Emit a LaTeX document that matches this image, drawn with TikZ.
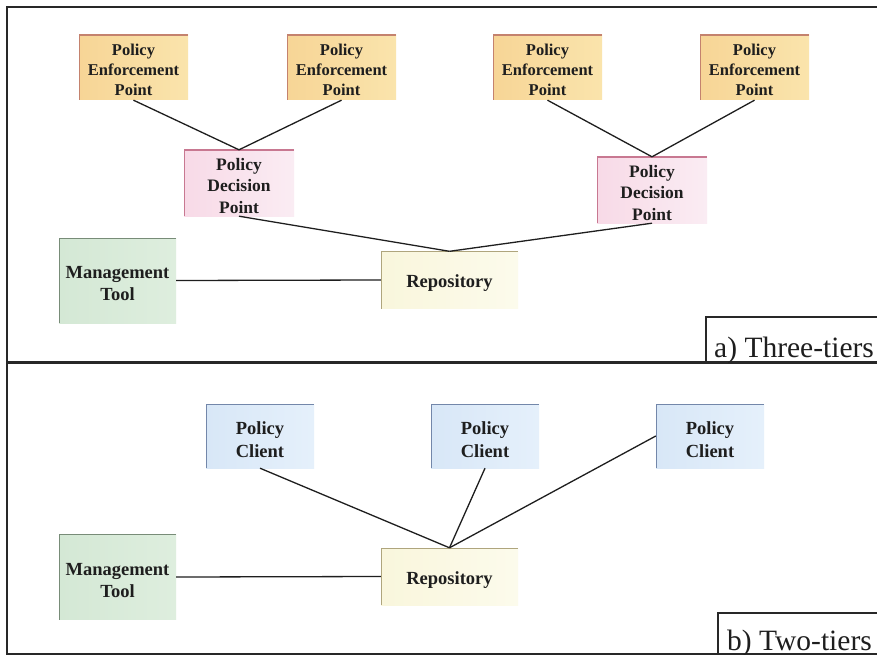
\documentclass[tikz,border=0pt]{standalone}
\usepackage{fontspec}
\setmainfont{Liberation Serif}
% invisible strut that raises the top of a node's first line
\newcommand{\padtop}[1]{\rule{0pt}{#1}}
\begin{document}
\begin{tikzpicture}[x=1pt,y=-1pt]
% colours
\definecolor{ink}{RGB}{30,30,30}
\definecolor{frame}{RGB}{40,40,40}
\definecolor{pepL}{RGB}{247,213,150}
\definecolor{pepR}{RGB}{250,228,172}
\definecolor{pepE}{RGB}{196,130,110}
\definecolor{pdpL}{RGB}{248,218,231}
\definecolor{pdpR}{RGB}{250,236,243}
\definecolor{pdpE}{RGB}{200,120,145}
\definecolor{mgtL}{RGB}{212,232,213}
\definecolor{mgtR}{RGB}{222,238,222}
\definecolor{mgtE}{RGB}{120,140,120}
\definecolor{repL}{RGB}{249,246,220}
\definecolor{repR}{RGB}{252,251,236}
\definecolor{repE}{RGB}{175,165,125}
\definecolor{pcL}{RGB}{216,231,247}
\definecolor{pcR}{RGB}{229,240,251}
\definecolor{pcE}{RGB}{115,135,170}
\tikzset{
  box/.style={rectangle, inner sep=0pt, align=center, text=ink,
    path picture={\draw[line width=1.6pt,#1]
      (path picture bounding box.south west) --
      (path picture bounding box.north west) --
      (path picture bounding box.north east);}},
  pep/.style={box=pepE, left color=pepL, right color=pepR,
    minimum width=109, minimum height=65,
    font=\bfseries\fontsize{16.5}{20}\selectfont},
  pdp/.style={box=pdpE, left color=pdpL, right color=pdpR,
    minimum width=110, minimum height=66,
    font=\bfseries\fontsize{17.5}{21.5}\selectfont},
  mgt/.style={box=mgtE, left color=mgtL, right color=mgtR,
    minimum width=117, minimum height=85,
    font=\bfseries\fontsize{18.5}{22}\selectfont},
  repo/.style={box=repE, left color=repL, right color=repR,
    minimum width=137, minimum height=57,
    font=\bfseries\fontsize{18.5}{22}\selectfont},
  pc/.style={box=pcE, left color=pcL, right color=pcR,
    minimum width=108, minimum height=64,
    font=\bfseries\fontsize{18.5}{23}\selectfont},
  link/.style={draw=ink, line width=1.3pt},
  frameline/.style={draw=frame, line width=2pt},
  tagline/.style={draw=frame, line width=1.3pt},
  tagtext/.style={inner sep=0pt, text=ink, font=\fontsize{29.5}{32}\selectfont}
}
\useasboundingbox[fill=white] (0,0) rectangle (877,655);

% ---- a) three tiers ----
\node[pep] (pep1) at (133.5,67.5) {\padtop{17pt}Policy\\Enforcement\\Point};
\node[pep] (pep2) at (341.5,67.5) {\padtop{17pt}Policy\\Enforcement\\Point};
\node[pep] (pep3) at (547.5,67.5) {\padtop{17pt}Policy\\Enforcement\\Point};
\node[pep] (pep4) at (754.5,67.5) {\padtop{17pt}Policy\\Enforcement\\Point};
\node[pdp] (pdp1) at (239,183) {\padtop{18pt}Policy\\Decision\\Point};
\node[pdp] (pdp2) at (652,190) {\padtop{18pt}Policy\\Decision\\Point};
\node[mgt] (mgtA) at (117.5,280.5) {\padtop{18.5pt}Management\\Tool};
\node[repo] (repoA) at (449.5,280) {\padtop{19pt}Repository};

\draw[link] (pep1.south) -- (pdp1.north);
\draw[link] (pep2.south) -- (pdp1.north);
\draw[link] (pep3.south) -- (pdp2.north);
\draw[link] (pep4.south) -- (pdp2.north);
\draw[link] (pdp1.south) -- (repoA.north);
\draw[link] (pdp2.south) -- (repoA.north);
\draw[link] (mgtA.east) -- (repoA.west);

% ---- b) two tiers ----
\node[pc] (pc1) at (260,436) {\padtop{19.5pt}Policy\\Client};
\node[pc] (pc2) at (485,436) {\padtop{19.5pt}Policy\\Client};
\node[pc] (pc3) at (710,436) {\padtop{19.5pt}Policy\\Client};
\node[mgt] (mgtB) at (117.5,577) {\padtop{18.5pt}Management\\Tool};
\node[repo] (repoB) at (449.5,576.5) {\padtop{19pt}Repository};

\draw[link] (pc1.south) -- (repoB.north);
\draw[link] (pc2.south) -- (repoB.north);
\draw[link] (pc3.west) -- (repoB.north);
\draw[link] (mgtB.east) -- (repoB.west);

% ---- frame and panel tags ----
\draw[frameline] (7,7) rectangle (882,654);
\draw[draw=frame, line width=3pt] (7,362) -- (882,362);
\draw[tagline] (706,362) |- (882,317);
\draw[tagline] (718,654) |- (882,613);
\node[tagtext, anchor=base west] (tagA) at (714,357) {a) Three-tiers};
\node[tagtext, anchor=base west] (tagB) at (727,650) {b) Two-tiers};
\end{tikzpicture}
\end{document}
